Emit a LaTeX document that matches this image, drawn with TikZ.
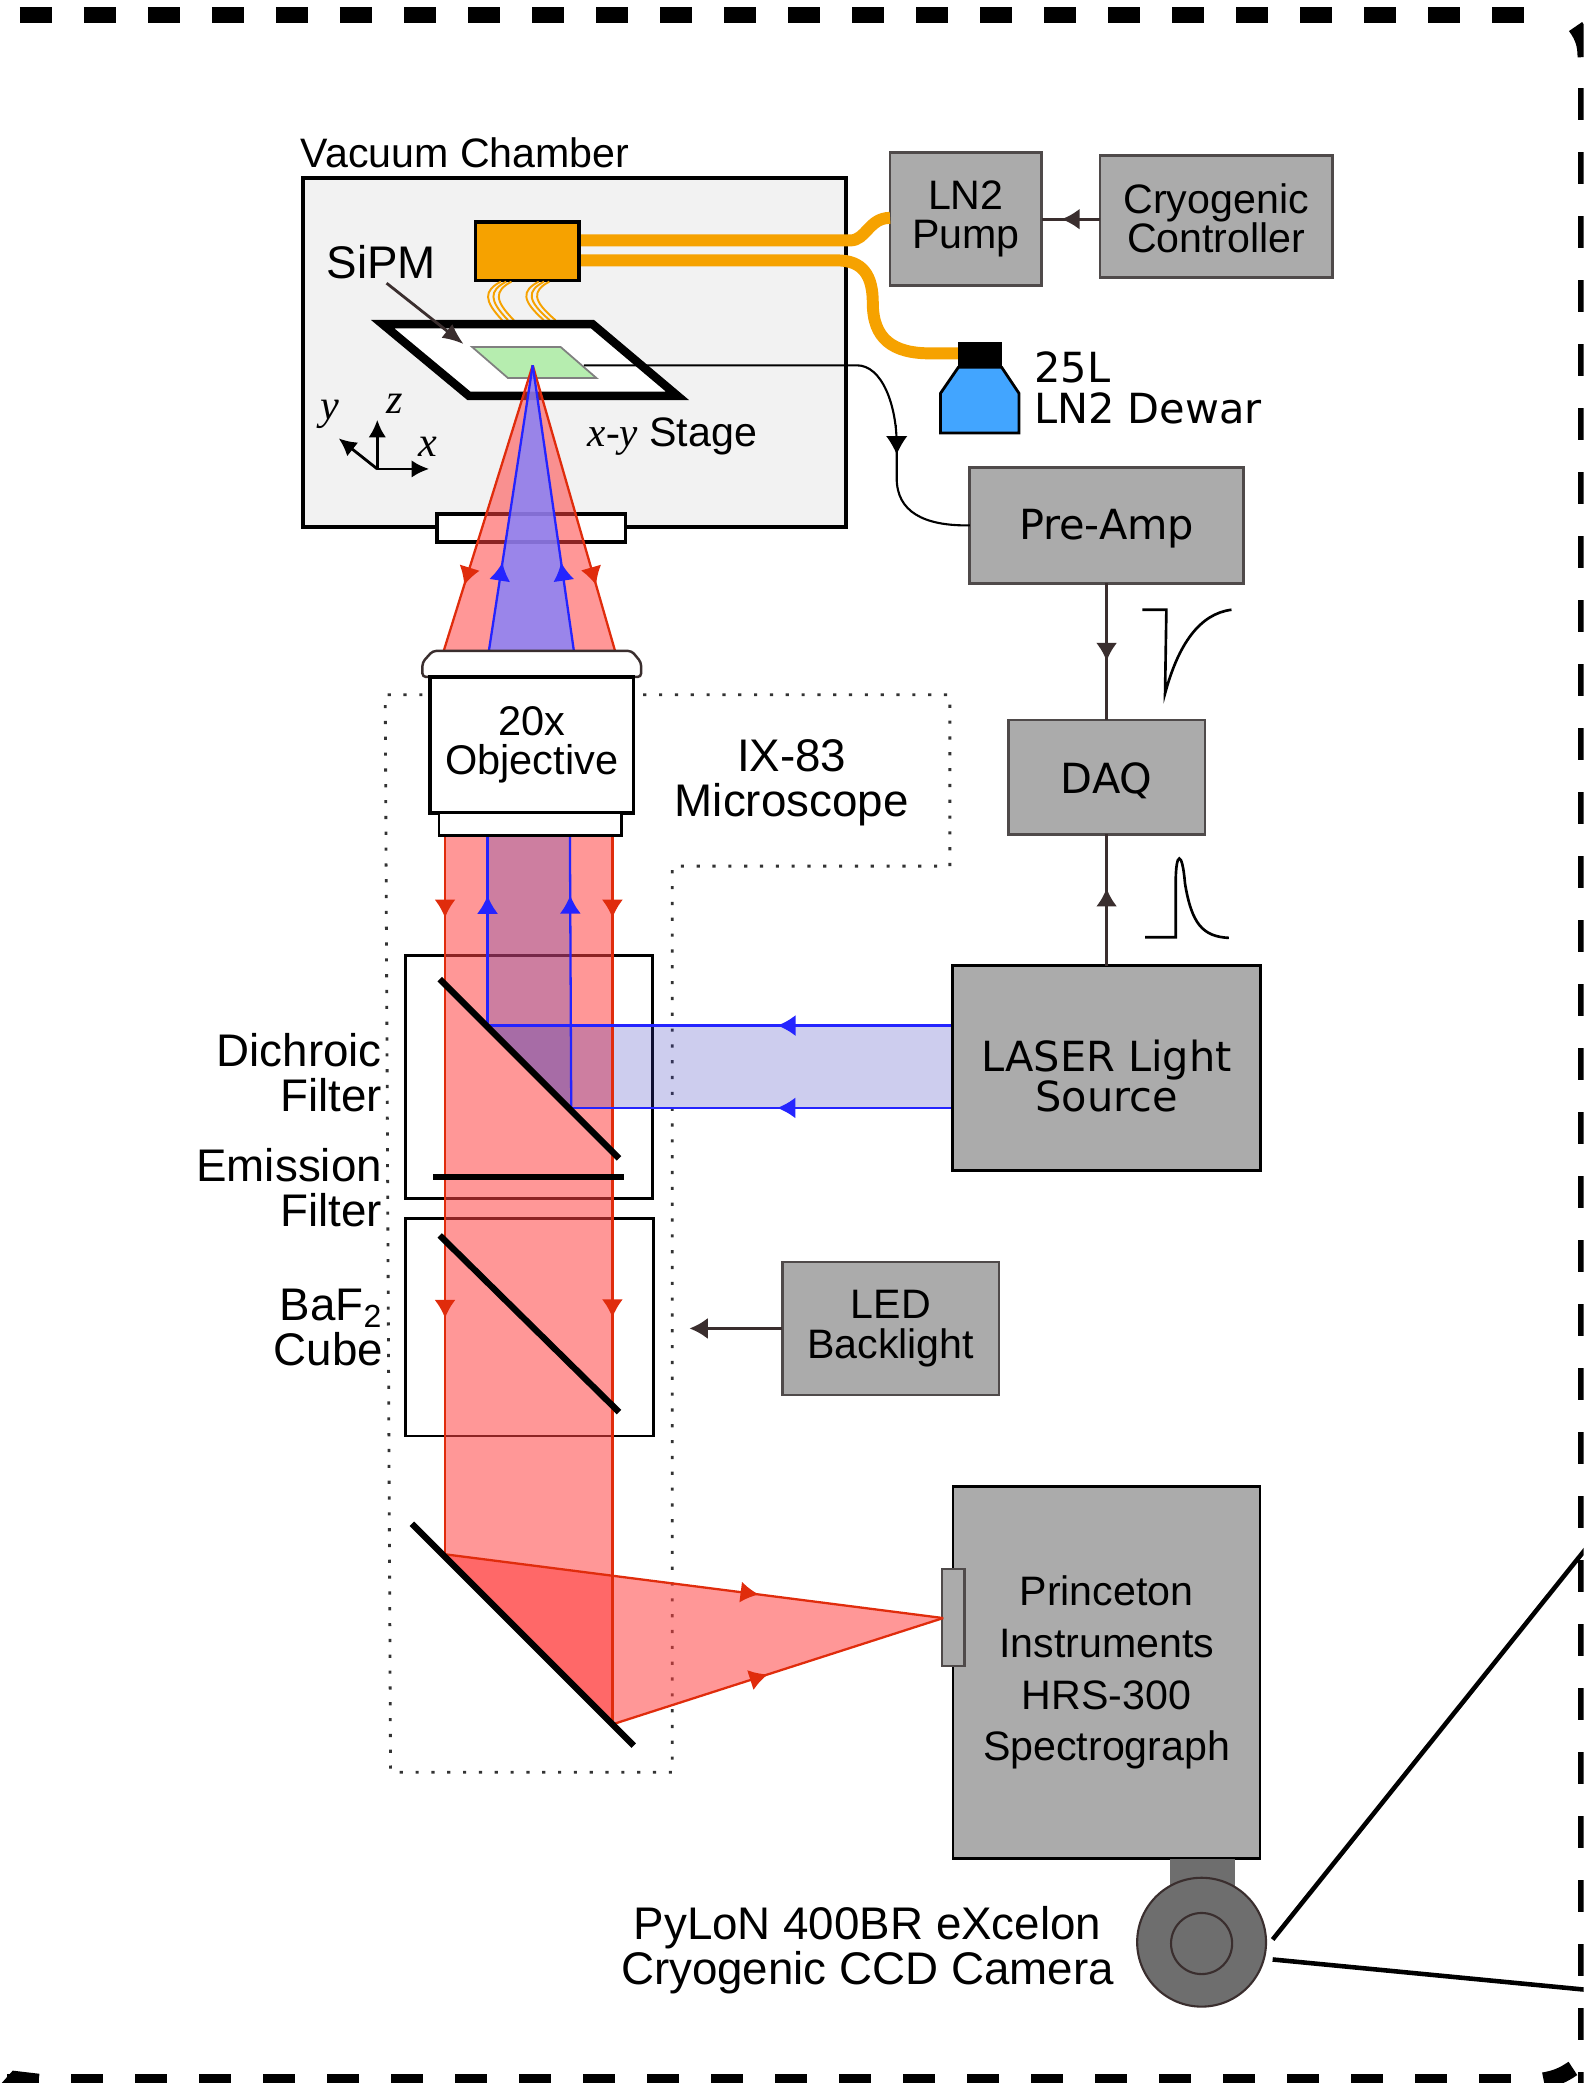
\documentclass[tikz,border=0pt]{standalone}
\usepackage{fontspec}
\setmainfont{Liberation Sans}
\newfontfamily\dvfont{DejaVu Sans}
\newfontfamily\serfont{Liberation Serif}
\usetikzlibrary{arrows.meta,decorations.markings}
\newcommand\pxu{0.01328cm}
\newcommand\smallfont{\fontsize{11.7}{11.2}\selectfont}
\newcommand\bigfont{\fontsize{13}{12.8}\selectfont}
\newcommand\dvtext{\dvfont\fontsize{11.8}{11}\selectfont}
\definecolor{panelgray}{HTML}{ABABAB}
\definecolor{edgegray}{HTML}{4F4A4A}
\definecolor{wiredark}{HTML}{3A2E2E}
\definecolor{coldorange}{HTML}{F6A200}
\definecolor{chambergray}{HTML}{F2F2F2}
\definecolor{stagegreen}{HTML}{B6EDAF}
\definecolor{dewarblue}{HTML}{42A5FF}
\definecolor{camgray}{HTML}{6E6E6E}
\definecolor{beamred}{RGB}{255,65,65}
\definecolor{rayred}{HTML}{E02C0C}
\definecolor{rayblue}{HTML}{2424FF}
\definecolor{pumpblue}{RGB}{56,56,188}
\definecolor{conefill}{RGB}{129,129,255}
\tikzset{
  gbox/.style 2 args={draw=edgegray,fill=panelgray,line width=.75pt,align=center,inner sep=0,outer sep=0,
    font=\smallfont,minimum width=#1*\pxu,minimum height=#2*\pxu},
  lbl/.style={align=center,inner sep=0,font=\smallfont},
  biglbl/.style={lbl,font=\bigfont},
  tipat/.style={postaction={decorate,decoration={markings,mark=at position #1 with{\arrow{Latex[length=5.2pt,width=6pt]}}}}},
  frame/.style={line width=4.53pt,dash pattern=on 9.1pt off 9.1pt},
  blob/.style={line width=4.53pt},
  wire/.style={draw=wiredark,line width=.8pt},
  tube/.style={draw=coldorange,line width=3.4pt},
  lead/.style={draw=coldorange,line width=.55pt},
  redray/.style={draw=rayred,line width=.65pt},
  blueray/.style={draw=rayblue,line width=.65pt},
  mirror/.style={line width=1.8pt},
  redbeam/.style={fill=beamred,fill opacity=.55},
  bluebeam/.style={fill=pumpblue,fill opacity=.25},
}
\begin{document}
\begin{tikzpicture}[x=\pxu,y=-\pxu,>=Latex]
\useasboundingbox(0,0)rectangle(1192,1568);
\begin{scope}
\clip(0,0)rectangle(1192,1568);
\draw[frame](15,11.3)--(1164,11.3);
\draw[frame](1193.5,66.3)--(1193.5,1568);
\draw[frame](5.3,1567)--(1138,1567);
\draw[blob](1186,20)to[bend left=18](1193.5,43);
\draw[blob](1162,1566)to[bend right=12](1184,1557);
\draw[blob](29,1567)--(12,1565)--(4,1574);
\draw[line width=1.3pt](958,1460)--(1196,1163);
\draw[line width=1.3pt](958,1475)--(1196,1498);
\end{scope}
% vacuum chamber and stage
\node[lbl,anchor=west](chamberlabel)at(226,115){Vacuum Chamber};
\draw[fill=chambergray,line width=1.1pt](228,134)rectangle(637,397);
\draw[fill=white,line width=1pt](329,387)rectangle(471,408);
\coordinate(tubea)at(437,181);\coordinate(tubeb)at(437,196);\coordinate(tubec)at(722,266);
\node[gbox={114}{100}](pump)at(727,165){LN2\\Pump};
\draw[tube](tubea)--(640,181)..controls(652,181)and(654,164)..(pump.west|-0,164);
\draw[tube](tubeb)--(630,196)..controls(650,196)and(657,208)..(657,228)..controls(657,255)and(672,266)..(700,266)--(tubec);
\node[draw,fill=coldorange,line width=1pt,inner sep=0,outer sep=0,minimum width=78*\pxu,minimum height=44*\pxu](coldhead)at(397,189){};
\foreach \dx in {0,4,8,28.5,32.5,36.5}
 \draw[lead](377+\dx,212)..controls(364+\dx,219)and(364+\dx,226)..(378+\dx*1.1,241);
\draw[fill=white,line width=2.4pt,miter limit=10](288,244)--(446,244)--(510,298)--(353,298)--cycle;
\draw[fill=stagegreen,draw=gray,line width=.5pt](355.4,261.2)--(422,261.2)--(449,284.6)--(382.4,284.6)--cycle;
\node[biglbl](sipmlabel)at(287,197){SiPM};
\coordinate(sipmtip)at(349,259);
\draw[wire,-{Latex[length=6pt,width=5pt]}](sipmlabel.south)++(4,3)--(sipmtip);
\draw[-{Latex[length=5pt,width=5pt]},line width=.8pt](284,353)--(284,316);
\draw[-{Latex[length=5pt,width=5pt]},line width=.8pt](284,353)--(255,330);
\draw[-{Latex[length=5pt,width=5pt]},line width=.8pt](284,353)--(323,353);
\node[lbl,font=\serfont\itshape\fontsize{12}{12}\selectfont](axisy)at(248,312){y};
\node[lbl,font=\serfont\itshape\fontsize{12}{12}\selectfont](axisz)at(297,304){z};
\node[lbl,font=\serfont\itshape\fontsize{12}{12}\selectfont](axisx)at(322,336){x};
\node[lbl,anchor=west](stagelabel)at(442,329){{\serfont\itshape x-y} Stage};
% side boxes
\node[gbox={175}{92}](cryoctl)at(915.5,163){};
\node[lbl](cryotext)at(915.5,164.5){Cryogenic\\Controller};
\draw[wire,tipat=.66](cryoctl.west|-0,165)--(pump.east|-0,165);
\draw[fill=dewarblue,line width=.8pt](721.4,276.5)--(754,276.5)--(767,296)--(767,326)--(708,326)--(708,296)--cycle;
\draw[fill=black,line width=.4pt](721.4,258)rectangle(754,276.5);
\node[lbl,anchor=west,align=left,font=\dvtext](dewarlabel)at(778,292){25L\\[.4pt]LN2 Dewar};
\node[gbox={206}{87}](preamp)at(833,395.5){};
\node[lbl,font=\dvtext](preamptext)at(833,398){Pre-Amp};
\node[gbox={148}{86}](daq)at(833,585){};
\node[lbl,font=\dvtext](daqtext)at(833,588){DAQ};
\node[gbox={232}{154},draw=black](laser)at(833,804){};
\node[lbl,font=\dvtext](lasertext)at(833,810){LASER Light\\[-1pt]Source};
\node[gbox={163}{100}](ledlight)at(670.5,1000){LED\\Backlight};
\node[gbox={231}{280},draw=black,font=\fontsize{11.7}{14.7}\selectfont](spectro)at(833,1259){Princeton\\Instruments\\HRS-300\\Spectrograph};
\draw[edgegray,line width=.6pt,fill=panelgray](709,1181)rectangle(726,1254);
\coordinate(ledtip)at(519,1000);
\draw[wire,-{Latex[length=5.2pt,width=6pt]}](ledlight)--(ledtip);
\draw[wire,tipat=.57](preamp)--(daq);
\draw[wire,tipat=.59](laser)--(daq);
\draw[black,line width=.6pt](439.5,275)--(645,275)..controls(664,275)and(675,305)..(675,335)--(675,360)..controls(675,385)and(695,396)..(preamp.west);
\draw[tipat=.88,line width=0pt,draw=black](675,320)--(675,345);
\draw[line width=.75pt](860,459)--(878,459)--(877,522)..controls(887,485)and(903,462)..(927,459);
\draw[line width=.75pt](862,705.5)--(885,705.5)--(885,665)..controls(885,640)and(890,640)..(892,665)..controls(897,695)and(905,705)..(925,706);
% microscope
\draw[line width=.8pt,dash pattern=on .9pt off 3.6pt,draw=black!80](318,523)--(290,523)--(294,1334)--(506,1334)--(506,652)--(715,652)--(715,523)--(482,523);
\node[biglbl](ixlabel)at(596,589){IX-83\\Microscope};
\node[biglbl,anchor=east,align=right](dichroic)at(288,807.5){Dichroic\\Filter};
\node[biglbl,anchor=east,align=right](emission)at(288,894){Emission\\Filter};
\node[biglbl,anchor=east,align=right](bafcube)at(289,999){BaF\textsubscript{2}\\Cube};
\draw[line width=.8pt](305,719)rectangle(491,902);
\draw[line width=.8pt](305,917)rectangle(492,1081);
% beams
\fill[redbeam](335,628)--(461,628)--(461,1298)--(335,1170)--cycle;
\fill[bluebeam](367,628)--(430,628)--(430,834)--(367,772)--cycle;
\fill[bluebeam](367,772)--(716,772)--(716,834)--(430,834)--cycle;
\fill[redbeam](335,1170)--(710,1218)--(461,1298)--cycle;
\draw[redray,tipat=.116,tipat=.672](335,628)--(335,1170);
\draw[redray,tipat=.094,tipat=.543](461,628)--(461,1298);
\draw[blueray,tipat=.68](367,772)--(367,628);
\draw[blueray,tipat=.777](430,834)--(429,628);
\draw[blueray,tipat=.375](716,772)--(367,772);
\draw[blueray,tipat=.458](716,834)--(430,834);
\draw[redray,tipat=.63](335,1170)--(710,1218);
\draw[redray,tipat=.47](461,1298)--(710,1218);
\coordinate(apex)at(401,275);
\fill[redbeam](apex)--(463,490)--(334,490)--cycle;
\fill[fill=conefill,fill opacity=.8](apex)--(432,490)--(368,490)--cycle;
\draw[redray,tipat=.77](apex)--(334,490);
\draw[redray,tipat=.77](apex)--(463,490);
\draw[blueray,tipat=.31](368,490)--(apex);
\draw[blueray,tipat=.31](432,490)--(apex);
\draw[mirror](331,737)--(466,872);
\draw[mirror](326,886)--(470,886);
\draw[mirror](331,930)--(466,1063);
\draw[mirror](310,1147)--(477,1314);
% objective
\draw[fill=white,draw=wiredark,line width=.7pt,rounded corners=1pt](318,509.6)--(318,498.6)--(325.7,490)--(475.5,490)--(482.6,498.6)--(482.6,509.6)--cycle;
\node[draw,fill=white,line width=.95pt,inner sep=0,outer sep=0,minimum width=153*\pxu,minimum height=102.4*\pxu,font=\fontsize{11.8}{11.2}\selectfont,align=center](objective)at(400.3,560.8){20x\\Objective};
\draw[fill=white,line width=.8pt](330.4,612)rectangle(467.7,628.8);
% camera
\draw[draw=camgray,fill=camgray](881,1400)rectangle(929,1425);
\node[circle,draw=wiredark,fill=camgray,line width=.6pt,inner sep=0,minimum size=97*\pxu](camera)at(904.5,1462){};
\node[circle,draw=wiredark,fill=camgray,line width=.6pt,inner sep=0,minimum size=46*\pxu](lens)at(904.5,1463){};
\node[biglbl](cameralabel)at(653,1468){PyLoN 400BR eXcelon\\Cryogenic CCD Camera};
\end{tikzpicture}
\end{document}
